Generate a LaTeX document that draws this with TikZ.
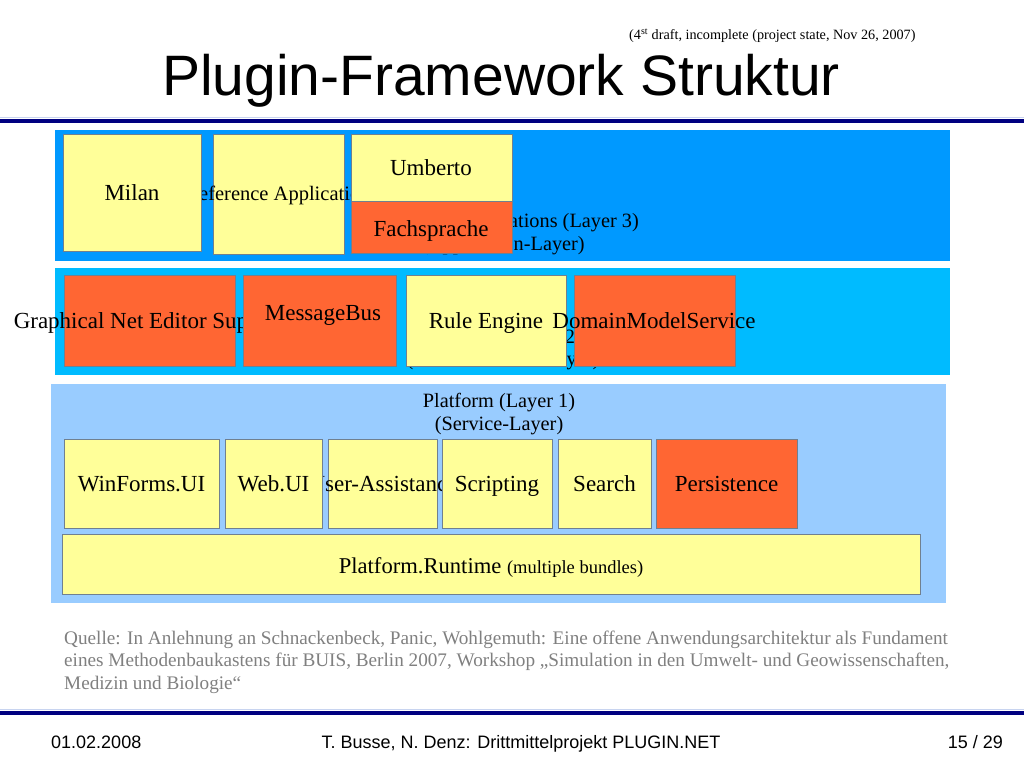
\documentclass[tikz,border=0pt]{standalone}
\usepackage{fontspec}
\setmainfont{Liberation Serif}
\newfontfamily\arialf{Liberation Sans}
\definecolor{lay3}{HTML}{0099FF}
\definecolor{lay2}{HTML}{00BBFF}
\definecolor{lay1}{HTML}{99CCFF}
\definecolor{yel}{HTML}{FFFF99}
\definecolor{ora}{HTML}{FF6633}
\definecolor{bord}{HTML}{708090}
\definecolor{navy}{HTML}{000080}
\definecolor{quelle}{HTML}{808080}
\definecolor{thinblue}{HTML}{C8D4F0}
\tikzset{
  boxbase/.style={draw=bord, line width=0.9pt, inner sep=0pt, anchor=north west},
  ybox/.style={boxbase, fill=yel},
  obox/.style={boxbase, fill=ora},
  boxtext/.style={font=\fontsize{23}{26}\selectfont, inner sep=0pt, text height=15.5pt, text depth=0pt},
  laytext/.style={font=\fontsize{20.3}{23}\selectfont, inner sep=0pt, text height=13.5pt, text depth=0pt},
  layer/.style={inner sep=0pt, anchor=north west},
  foot/.style={font=\arialf\fontsize{18}{21}\selectfont, inner sep=0pt, anchor=base},
}
\begin{document}
\begin{tikzpicture}[x=1pt,y=-1pt]
\useasboundingbox (0,0) rectangle (1024,768);
\fill[white] (0,0) rectangle (1024,768);

% title
\node[font=\fontsize{14.2}{16}\selectfont, inner sep=0pt, anchor=base west] (draft) at (629,40) {(4\textsuperscript{st} draft, incomplete (project state, Nov 26, 2007)};
\node[font=\arialf\fontsize{57}{60}\selectfont, inner sep=0pt, anchor=base] (title) at (501,95) {Plugin-Framework Struktur};

% rules
\coordinate (rl1) at (0,117.5);
\coordinate (rr1) at (1024,117.5);
\draw[thinblue, line width=1pt] (rl1) -- (rr1);
\coordinate (rl) at (0,121);
\coordinate (rr) at (1024,121);
\draw[navy, line width=4pt] (rl) -- (rr);
\coordinate (bl1) at (0,709.5);
\coordinate (br1) at (1024,709.5);
\draw[thinblue, line width=1pt] (bl1) -- (br1);
\coordinate (bl) at (0,713);
\coordinate (br) at (1024,713);
\draw[navy, line width=4pt] (bl) -- (br);

% layers
\node[layer, fill=lay3, minimum width=895pt, minimum height=131pt] (L3) at (55,130) {};
\node[layer, fill=lay2, minimum width=895pt, minimum height=107pt] (L2) at (55,268) {};
\node[layer, fill=lay1, minimum width=895pt, minimum height=219pt] (L1) at (51,384) {};

% layer labels
\node[laytext, anchor=east] (L3a) at (639,221) {Applications (Layer 3)};
\node[laytext] (L3b) at (503,244) {(Application-Layer)};
\node[laytext, anchor=east] (L2a) at (582,337) {Domain (Layer 2)};
\node[laytext] (L2b) at (503,359) {(Domain-Model-Layer)};
\node[laytext] (L1a) at (499,401) {Platform (Layer 1)};
\node[laytext] (L1b) at (499,424) {(Service-Layer)};

% layer 3 boxes
\node[ybox, minimum width=131pt, minimum height=120pt] (refapp) at (213,134) {};
\node[boxtext, font=\fontsize{20.5}{24}\selectfont, text height=13.8pt] at (278,194) {Reference Application};
\node[ybox, minimum width=138pt, minimum height=117pt] (milan) at (63,134) {};
\node[boxtext] at (132,193) {Milan};
\node[ybox, minimum width=161pt, minimum height=67pt] (umberto) at (351,134) {};
\node[boxtext] at (431,168) {Umberto};
\node[obox, minimum width=161pt, minimum height=52pt] (fach) at (351,201) {};
\node[boxtext] at (431,229) {Fachsprache};

% layer 2 boxes
\node[obox, minimum width=171pt, minimum height=91pt] (gnes) at (64,275) {};
\node[boxtext] at (149.5,321) {Graphical Net Editor Support};
\node[obox, minimum width=153pt, minimum height=91pt] (mbus) at (243,275) {};
\node[boxtext] at (323,313) {MessageBus};
\node[ybox, minimum width=160pt, minimum height=91pt] (rule) at (406,275) {};
\node[boxtext] at (486,321) {Rule Engine};
\node[obox, minimum width=161pt, minimum height=91pt] (dms) at (574,275) {};
\node[boxtext] at (654,321) {DomainModelService};

% layer 1 boxes
\node[ybox, minimum width=109pt, minimum height=89pt] (uass) at (328,439) {};
\node[boxtext] at (383,484) {User-Assistance};
\node[ybox, minimum width=155pt, minimum height=89pt] (winf) at (64,439) {};
\node[boxtext] at (141.5,484) {WinForms.UI};
\node[ybox, minimum width=97pt, minimum height=89pt] (web) at (225,439) {};
\node[boxtext] at (273.5,484) {Web.UI};
\node[ybox, minimum width=110pt, minimum height=89pt] (script) at (442,439) {};
\node[boxtext] at (497,484) {Scripting};
\node[ybox, minimum width=93pt, minimum height=89pt] (search) at (558,439) {};
\node[boxtext] at (604.5,484) {Search};
\node[obox, minimum width=141pt, minimum height=89pt] (pers) at (656,439) {};
\node[boxtext] at (726.5,484) {Persistence};
\node[ybox, minimum width=858pt, minimum height=60pt] (runtime) at (62,534) {};
\node[inner sep=0pt, anchor=base] (rtext) at (491,573) {\fontsize{22.6}{26}\selectfont Platform.Runtime \fontsize{18.5}{21}\selectfont(multiple bundles)};

% source
\node[text=quelle, font=\fontsize{19.2}{22.5}\selectfont, inner sep=0pt, anchor=base west, align=left] (src) at (64,689) {Quelle: In Anlehnung an Schnackenbeck, Panic, Wohlgemuth: Eine offene Anwendungsarchitektur als Fundament\\eines Methodenbaukastens für BUIS, Berlin 2007, Workshop „Simulation in den Umwelt- und Geowissenschaften,\\Medizin und Biologie“};

% footer
\node[foot, anchor=base west] (date) at (51,748) {01.02.2008};
\node[foot] (authors) at (521,748) {T. Busse, N. Denz: Drittmittelprojekt PLUGIN.NET};
\node[foot, anchor=base east] (page) at (1003,748) {15 / 29};
\end{tikzpicture}
\end{document}
